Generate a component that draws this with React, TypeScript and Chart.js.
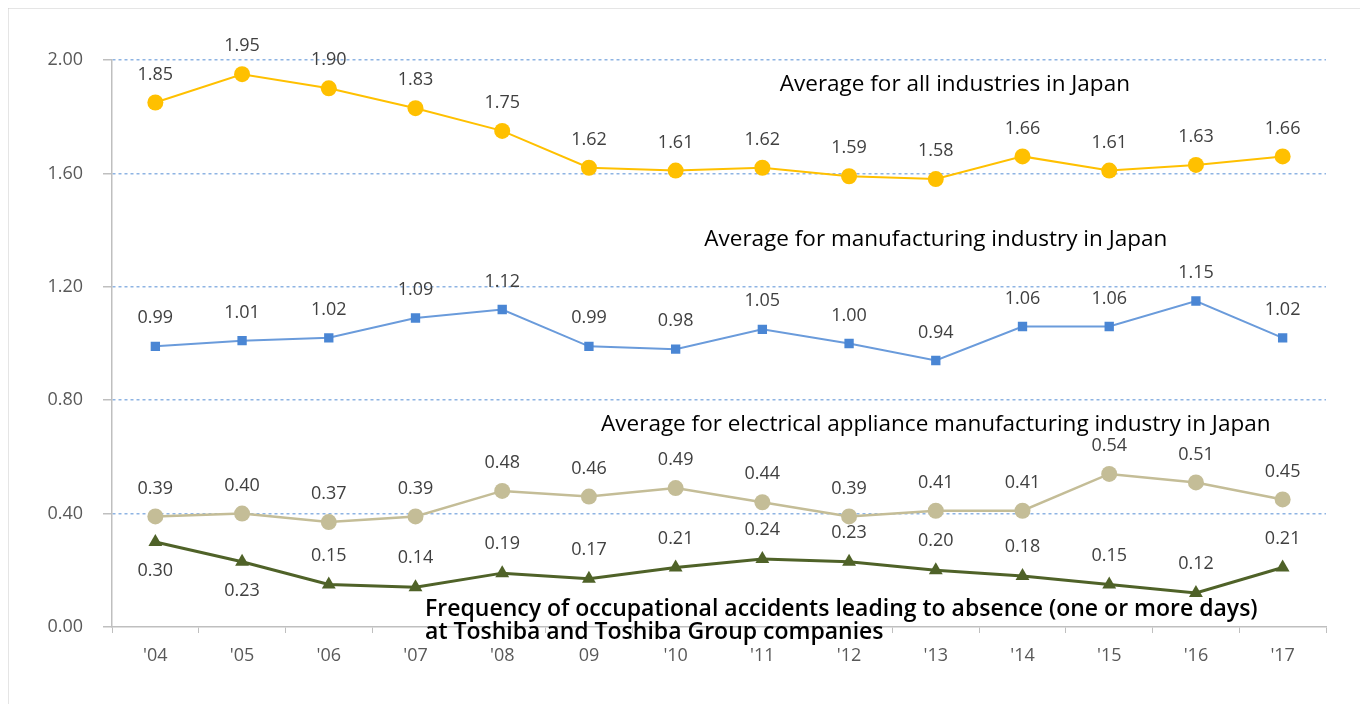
import React, { useEffect, useRef } from "react";
import { Chart, registerables } from "chart.js";

Chart.register(...registerables);

const years = ["'04", "'05", "'06", "'07", "'08", "09", "'10", "'11", "'12", "'13", "'14", "'15", "'16", "'17"];
const allIndustries = [1.85, 1.95, 1.9, 1.83, 1.75, 1.62, 1.61, 1.62, 1.59, 1.58, 1.66, 1.61, 1.63, 1.66];
const manufacturing = [0.99, 1.01, 1.02, 1.09, 1.12, 0.99, 0.98, 1.05, 1.0, 0.94, 1.06, 1.06, 1.15, 1.02];
const electrical = [0.39, 0.4, 0.37, 0.39, 0.48, 0.46, 0.49, 0.44, 0.39, 0.41, 0.41, 0.54, 0.51, 0.45];
const toshiba = [0.3, 0.23, 0.15, 0.14, 0.19, 0.17, 0.21, 0.24, 0.23, 0.2, 0.18, 0.15, 0.12, 0.21];

const annotations = [
  { text: "Average for all industries in Japan", x: 9.22, y: 1.915 },
  { text: "Average for manufacturing industry in Japan", x: 9.0, y: 1.367 },
  { text: "Average for electrical appliance manufacturing industry in Japan", x: 9.0, y: 0.714 },
];
const toshibaNote = [
  "Frequency of occupational accidents leading to absence (one or more days)",
  "at Toshiba and Toshiba Group companies",
];

const FONT = "'Open Sans', 'Noto Sans', sans-serif";

const frameplugin = {
  id: "frame",
  beforeDraw(chart: any) {
    const ctx = chart.ctx;
    ctx.save();
    ctx.fillStyle = "#ffffff";
    ctx.fillRect(0, 0, chart.width, chart.height);
    ctx.strokeStyle = "#cccccc";
    ctx.lineWidth = 1.5;
    ctx.strokeRect(0.75, 0.75, chart.width - 1.5, chart.height + 10);
    ctx.restore();
  },
};

const labelPlugin = {
  id: "customLabels",
  afterDatasetsDraw(chart: any) {
    const ctx = chart.ctx;
    const xs = chart.scales.x;
    const ys = chart.scales.y;
    ctx.save();
    ctx.font = `18px ${FONT}`;
    ctx.fillStyle = "#404040";
    ctx.textAlign = "center";
    ctx.textBaseline = "middle";
    chart.data.datasets.forEach((ds: any, di: number) => {
      const meta = chart.getDatasetMeta(di);
      meta.data.forEach((pt: any, i: number) => {
        const v = ds.data[i];
        const below = di === 3 && i < 2;
        const off = di === 3 ? 29 : 28;
        ctx.fillText(v.toFixed(2), pt.x, below ? pt.y + off : pt.y - off);
      });
    });
    ctx.fillStyle = "#000000";
    ctx.font = `22.5px ${FONT}`;
    annotations.forEach((a) => {
      ctx.textAlign = "center";
      ctx.fillText(a.text, xs.getPixelForValue(a.x), ys.getPixelForValue(a.y));
    });
    ctx.font = `600 23px ${FONT}`;
    ctx.textAlign = "left";
    const nx = xs.getPixelForValue(3.11);
    const ny = ys.getPixelForValue(0.062);
    toshibaNote.forEach((t, i) => ctx.fillText(t, nx, ny + i * 23));
    ctx.restore();
  },
};

export default function App() {
  const ref = useRef<HTMLCanvasElement>(null);
  useEffect(() => {
    const canvas = ref.current!;
    const chart = new Chart(canvas, {
      type: "line",
      data: {
        labels: years,
        datasets: [
          {
            label: "All industries",
            data: allIndustries,
            borderColor: "#FFC000",
            backgroundColor: "#FFC000",
            borderWidth: 2,
            pointStyle: "circle",
            pointRadius: 8,
            pointBorderWidth: 0,
          },
          {
            label: "Manufacturing",
            data: manufacturing,
            borderColor: "#6A9BDB",
            backgroundColor: "#4A86D4",
            borderWidth: 2,
            pointStyle: "rect",
            pointRadius: 6.6,
            pointBorderWidth: 0,
          },
          {
            label: "Electrical",
            data: electrical,
            borderColor: "#C4BD97",
            backgroundColor: "#C4BD97",
            borderWidth: 2.5,
            pointStyle: "circle",
            pointRadius: 8,
            pointBorderWidth: 0,
          },
          {
            label: "Toshiba",
            data: toshiba,
            borderColor: "#4F6228",
            backgroundColor: "#4F6228",
            borderWidth: 3,
            pointStyle: "triangle",
            pointRadius: 8,
            pointBorderWidth: 0,
          },
        ],
      },
      options: {
        responsive: false,
        animation: false,
        layout: { padding: { left: 1, top: 53, right: 40, bottom: 0 } },
        plugins: { legend: { display: false }, tooltip: { enabled: false } },
        elements: { line: { tension: 0 } },
        scales: {
          x: {
            offset: true,
            grid: {
              offset: true,
              drawOnChartArea: false,
              drawTicks: true,
              tickLength: 6,
              tickColor: "#bfbfbf",
              tickWidth: 1,
            },
            border: { color: "#bfbfbf", width: 1.5 },
            ticks: { color: "#595959", font: { family: FONT, size: 18 }, padding: 12, autoSkip: false, maxRotation: 0 },
            afterFit: (s: any) => {
              s.height = 92;
            },
          },
          y: {
            min: 0,
            max: 2,
            ticks: {
              stepSize: 0.4,
              color: "#595959",
              font: { family: FONT, size: 18 },
              padding: 20,
              callback: (v: any) => Number(v).toFixed(2),
            },
            grid: {
              color: (c: any) => (c.tick && c.tick.value === 0 ? "rgba(0,0,0,0)" : "#8EB4E3"),
              lineWidth: 1.5,
              tickLength: 9,
              tickColor: "#bfbfbf",
              tickWidth: 1.5,
            },
            border: { color: "#bfbfbf", width: 1.5, dash: [3, 3] },
            afterFit: (s: any) => {
              s.width = 104;
            },
          },
        },
      },
      plugins: [frameplugin, labelPlugin],
    } as any);
    return () => chart.destroy();
  }, []);
  return (
    <div style={{ margin: "-1px 0 0 -1px", width: 1359, height: 712 }}>
      <canvas ref={ref} width={1359} height={712} style={{ display: "block" }} />
    </div>
  );
}
